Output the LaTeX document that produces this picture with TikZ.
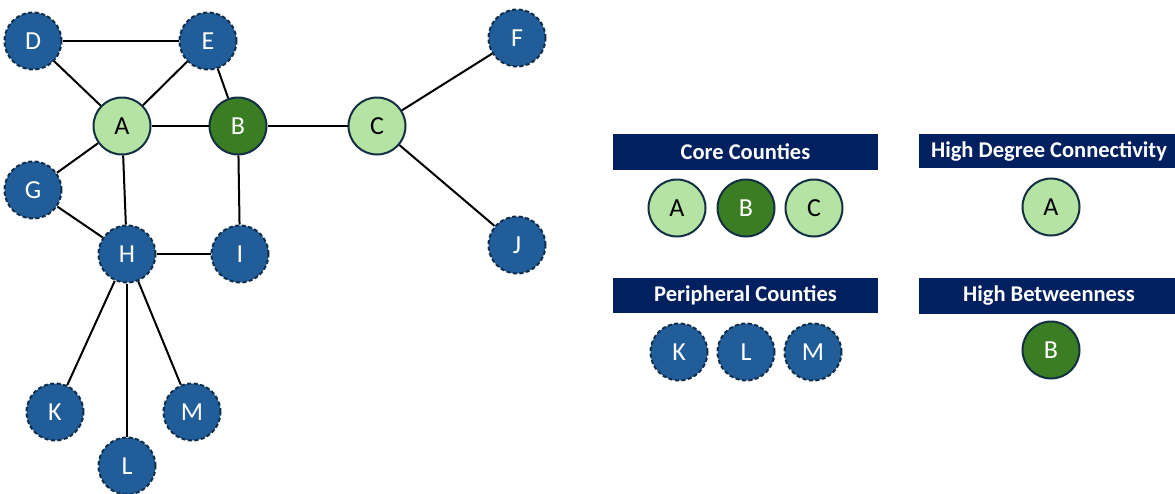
\documentclass[tikz,border=0pt]{standalone}
\usepackage{fontspec}
\setmainfont{Carlito}
\usepackage{tikz}
\usetikzlibrary{positioning}
\definecolor{peri}{RGB}{33,93,153}
\definecolor{peririm}{RGB}{16,45,74}
\definecolor{corefill}{RGB}{180,227,164}
\definecolor{bridgefill}{RGB}{58,125,34}
\definecolor{rim}{RGB}{18,48,66}
\definecolor{headnavy}{RGB}{0,32,96}
\tikzstyle{county}=[circle,line width=2pt,minimum size=57pt,inner sep=0,font=\fontsize{26}{30}\selectfont]
\tikzstyle{periph}=[county,fill=peri,draw=peririm,dash pattern=on 4pt off 2.5pt,text=white]
\tikzstyle{core}=[county,fill=corefill,draw=rim,text=black]
\tikzstyle{bridge}=[county,fill=bridgefill,draw=rim,text=white]
\tikzstyle{head}=[fill=headnavy,text=white,inner sep=0,font=\bfseries\fontsize{22.5}{26}\selectfont]

\begin{document}
\begin{tikzpicture}[x=1pt,y=-1pt,line width=2pt]
    \useasboundingbox (0,0) rectangle (1175,493);

    % the network
    \node[periph] (D) at (33,41) {D};
    \node[periph] (E) at (208,41) {E};
    \node[core] (A) at (122,126) {A};
    \node[bridge] (B) at (238,126) {B};
    \node[core] (C) at (377,126) {C};
    \node[periph] (F) at (517,38) {F};
    \node[periph] (G) at (33,190) {G};
    \node[periph] (H) at (127,254) {H};
    \node[periph] (I) at (240,254) {I};
    \node[periph] (J) at (517,245) {J};
    \node[periph] (K) at (55,412) {K};
    \node[periph] (L) at (127,466) {L};
    \node[periph] (M) at (192,412) {M};

    \draw (D) -- (E);
    \draw (D) -- (A);
    \draw (E) -- (A);
    \draw (E) -- (B);
    \draw (A) -- (B);
    \draw (B) -- (C);
    \draw (C) -- (F);
    \draw (C) -- (J);
    \draw (A) -- (G);
    \draw (A) -- (H);
    \draw (G) -- (H);
    \draw (B) -- (I);
    \draw (H) -- (I);
    \draw (H) -- (K);
    \draw (H) -- (L);
    \draw (H) -- (M);

    % legend
    \node[head, minimum width=265pt, minimum height=36pt] (core_hd) at (745.5,152) {Core Counties};
    \node[core] (core_A) at (677,208) {A};
    \node[bridge] (core_B) at (746,208) {B};
    \node[core] (core_C) at (814,208) {C};

    \node[head, minimum width=265pt, minimum height=35pt] (peri_hd) at (745.5,295.5) {Peripheral Counties};
    \node[periph] (peri_K) at (679,352) {K};
    \node[periph] (peri_L) at (746,352) {L};
    \node[periph] (peri_M) at (813,352) {M};

    \node[head, minimum width=260pt, minimum height=34pt] (deg_hd) at (1049,151) {High Degree Connectivity};
    \node[core] (deg_A) at (1051,207) {A};

    \node[head, minimum width=260pt, minimum height=36pt] (btw_hd) at (1049,296) {High Betweenness};
    \node[bridge] (btw_B) at (1051,350) {B};
\end{tikzpicture}
\end{document}
